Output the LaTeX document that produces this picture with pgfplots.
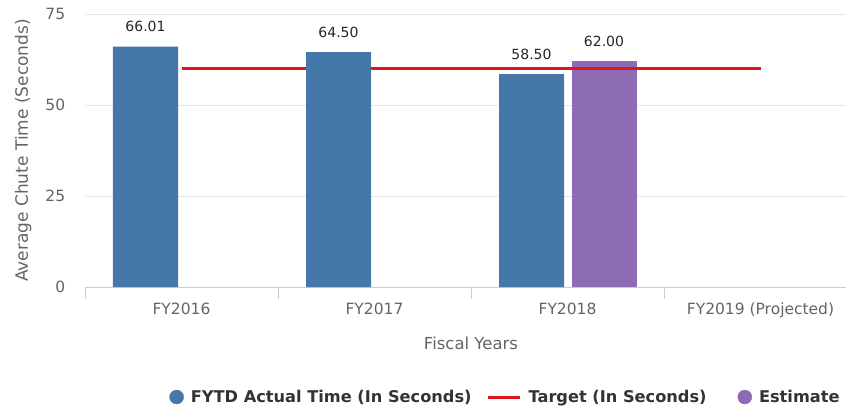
\documentclass[border=0pt]{standalone}
\usepackage{fontspec}
\setmainfont{DejaVu Sans}
\usepackage{pgfplots}
\pgfplotsset{compat=1.18}
\definecolor{barblue}{RGB}{69,119,168}
\definecolor{barpurple}{RGB}{142,107,181}
\definecolor{tgtred}{RGB}{226,20,30}
\definecolor{gridgray}{RGB}{230,230,230}
\definecolor{axgray}{RGB}{200,205,215}
\definecolor{txtgray}{RGB}{100,100,100}
\begin{document}
\begin{tikzpicture}
\begin{axis}[
  at={(0,0)}, anchor=south west,
  x=193pt, y=3.64pt,
  xmin=-0.5, xmax=3.5, ymin=0, ymax=75,
  /pgf/number format/assume math mode=true,
  axis x line*=bottom, axis y line*=left,
  y axis line style={draw=none},
  x axis line style={axgray, line width=0.8pt},
  ytick={0,25,50,75},
  ytick style={draw=none},
  ymajorgrids, grid style={gridgray, line width=0.8pt},
  xtick={0,1,2,3},
  xticklabels={FY2016,FY2017,FY2018,FY2019 (Projected)},
  major x tick style={draw=none},
  minor xtick={-0.5,0.5,1.5,2.5,3.5},
  minor tick length=12pt, tick align=outside,
  minor x tick style={axgray, line width=0.8pt},
  xticklabel style={font=\fontsize{15.5}{18}\selectfont, text=txtgray, yshift=-8pt},
  yticklabel style={font=\fontsize{15.5}{18}\selectfont, text=txtgray, xshift=-12pt},
  ylabel={Average Chute Time (Seconds)},
  ylabel style={at={(axis description cs:-0.0800,0.5)}, anchor=center, font=\fontsize{17}{20}\selectfont, text=txtgray},
  xlabel={Fiscal Years},
  xlabel style={at={(axis description cs:0.5,-0.205)}, anchor=center, font=\fontsize{16.5}{20}\selectfont, text=txtgray},
  legend columns=3,
  legend style={at={(axis description cs:0.5447,-0.403)}, anchor=center, draw=none, fill=none,
    font=\bfseries\fontsize{16.2}{19}\selectfont, text=black!80,
    /tikz/column 1/.style={column sep=5pt},
    /tikz/column 2/.style={column sep=13pt},
    /tikz/column 3/.style={column sep=5pt},
    /tikz/column 4/.style={column sep=29pt},
    /tikz/column 5/.style={column sep=5pt}},
  nodes near coords={\pgfmathprintnumber[fixed,fixed zerofill,precision=2]{\pgfplotspointmeta}},
  every node near coord/.append style={font=\fontsize{14}{16}\selectfont, text=black!85, yshift=11pt},
]
\addlegendimage{legend image code/.code={\fill[barblue] (7pt,0pt) circle (7pt);}}
\addlegendentry{FYTD Actual Time (In Seconds)}
\addlegendimage{legend image code/.code={\draw[tgtred, line width=3pt] (0pt,0pt) -- (32pt,0pt);}}
\addlegendentry{Target (In Seconds)}
\addlegendimage{legend image code/.code={\fill[barpurple] (7pt,0pt) circle (7pt);}}
\addlegendentry{Estimate}

\addplot[ybar, bar width=65pt, bar shift=36.5pt, fill=barpurple, draw=none, forget plot,
  every node near coord/.append style={xshift=36.5pt}]
  coordinates {(2,62.00)};
\addplot[tgtred, line width=2.8pt, forget plot, nodes near coords={}]
  coordinates {(0,60) (1,60) (2,60) (3,60)};
\addplot[ybar, bar width=65pt, bar shift=-36pt, fill=barblue, draw=none, forget plot,
  every node near coord/.append style={xshift=-36pt}]
  coordinates {(0,66.01) (1,64.50) (2,58.50)};
\end{axis}
\pgfresetboundingbox
\path[use as bounding box] (-85pt,-121pt) rectangle (761pt,287pt);
\end{tikzpicture}
\end{document}
